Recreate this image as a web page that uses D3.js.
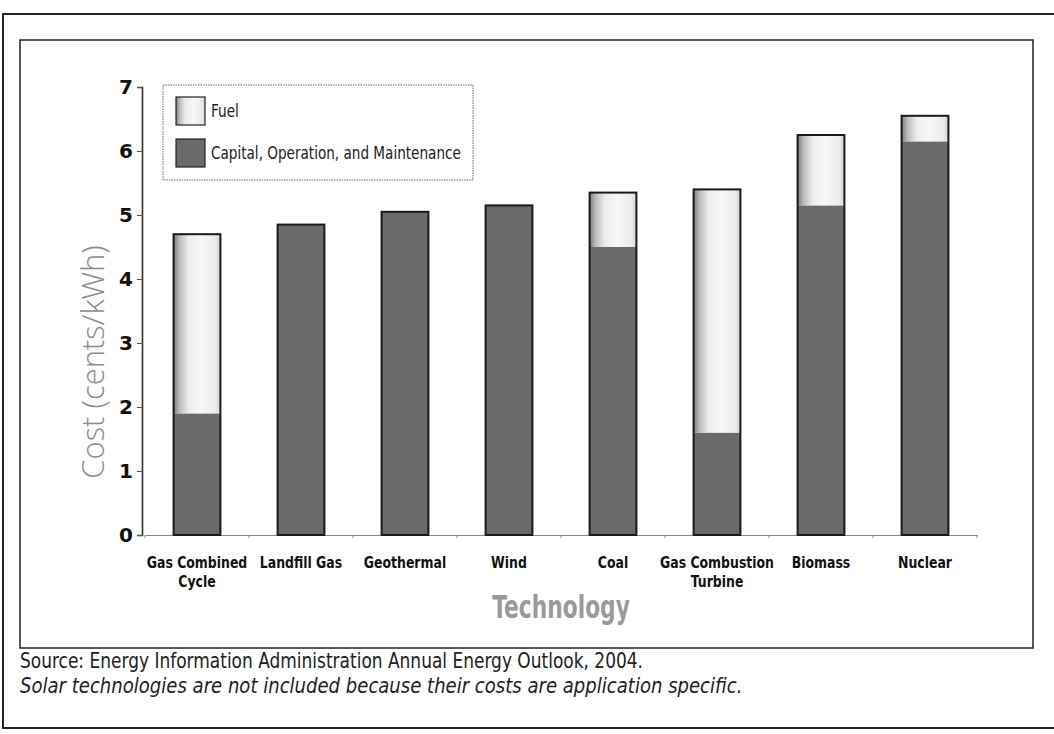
<!DOCTYPE html>
<html>
<head>
<meta charset="utf-8">
<script src="https://cdn.jsdelivr.net/npm/d3@7"></script>
<style>
  html, body { margin: 0; padding: 0; background: #fff; }
  svg { display: block; }
</style>
</head>
<body>
<svg id="chart" width="1054" height="734"></svg>
<script>
// Levelized electricity cost by technology (cents/kWh)
const categories = [
  "Gas Combined\nCycle",
  "Landfill Gas",
  "Geothermal",
  "Wind",
  "Coal",
  "Gas Combustion\nTurbine",
  "Biomass",
  "Nuclear"
];
const capitalOM = [1.9, 4.85, 5.05, 5.15, 4.5, 1.6, 5.15, 6.15];
const fuel      = [2.8, 0,    0,    0,    0.85, 3.8, 1.1,  0.4];
const yTicks = [0, 1, 2, 3, 4, 5, 6, 7];
const seriesNames = ["Fuel", "Capital, Operation, and Maintenance"];

const sans = "'DejaVu Sans', 'Liberation Sans', sans-serif";

const svg = d3.select("#chart");

// horizontally compressed text, used for the narrow lettering
function narrowText(parent, x, y, sx, anchor) {
  return parent.append("g")
    .attr("transform", `translate(${x},${y}) scale(${sx},1)`)
    .append("text").attr("x", 0).attr("y", 0)
    .attr("text-anchor", anchor || "start")
    .attr("font-family", sans);
}

// gradient used for the fuel segments
const defs = svg.append("defs");
const grad = defs.append("linearGradient").attr("id", "fuelGrad")
  .attr("x1", "0%").attr("x2", "100%").attr("y1", "0%").attr("y2", "0%");
[[0, "#7a7a7a"], [0.12, "#b9b9b9"], [0.32, "#ececec"], [0.6, "#f7f7f7"], [0.88, "#ececec"], [1, "#d4d4d4"]]
  .forEach(([o, c]) => grad.append("stop").attr("offset", o).attr("stop-color", c));

// page frames
svg.append("rect").attr("x", 3).attr("y", 14).attr("width", 1070).attr("height", 714)
  .attr("fill", "none").attr("stroke", "#222").attr("stroke-width", 2);
svg.append("rect").attr("x", 20).attr("y", 40).attr("width", 1013).attr("height", 608)
  .attr("fill", "none").attr("stroke", "#222").attr("stroke-width", 1.5);

const x = d3.scaleBand().domain(categories).range([145, 977]).padding(0);
const y = d3.scaleLinear().domain([0, 7]).range([535, 87]);
const barW = x.bandwidth() * 0.45;

// x axis
const xAxis = svg.append("g").attr("transform", `translate(0,${y(0)})`)
  .call(d3.axisBottom(x).tickSize(0).tickFormat(""));
xAxis.select(".domain").attr("stroke", "#8a8a8a").attr("stroke-width", 1);
xAxis.selectAll(".tick").remove();
const bounds = categories.map(c => x(c)).concat([x.range()[1]]);
xAxis.selectAll("line.bound").data(bounds).join("line").attr("class", "bound")
  .attr("x1", d => d).attr("x2", d => d).attr("y1", 0).attr("y2", 3)
  .attr("stroke", "#8a8a8a").attr("stroke-width", 1);

// category labels
const labels = svg.append("g");
categories.forEach(c => {
  const t = narrowText(labels, x(c) + x.bandwidth() / 2, 568, 0.78, "middle")
    .attr("font-weight", "bold").attr("font-size", 16).attr("fill", "#111");
  c.split("\n").forEach((line, i) => {
    t.append("tspan").attr("x", 0).attr("dy", i ? 19 : 0).text(line);
  });
});

// y axis
const yAxis = svg.append("g").attr("transform", "translate(142,0)")
  .call(d3.axisLeft(y).tickValues(yTicks).tickSize(5).tickPadding(4).tickFormat(d3.format("d")));
yAxis.select(".domain").attr("stroke", "#333").attr("stroke-width", 1.6);
yAxis.selectAll(".tick line").attr("stroke", "#555");
yAxis.selectAll(".tick text")
  .attr("font-family", sans).attr("font-weight", "bold")
  .attr("font-size", 20).attr("fill", "#111");

// stacked bars
const bars = svg.append("g");
categories.forEach((c, i) => {
  const bx = x(c) + (x.bandwidth() - barW) / 2;
  const capTop = y(capitalOM[i]);
  const total = capitalOM[i] + fuel[i];
  bars.append("rect").attr("x", bx).attr("y", capTop)
    .attr("width", barW).attr("height", y(0) - capTop).attr("fill", "#6a6a6a");
  if (fuel[i] > 0) {
    bars.append("rect").attr("x", bx).attr("y", y(total))
      .attr("width", barW).attr("height", capTop - y(total)).attr("fill", "url(#fuelGrad)");
  }
  bars.append("rect").attr("x", bx).attr("y", y(total))
    .attr("width", barW).attr("height", y(0) - y(total))
    .attr("fill", "none").attr("stroke", "#1a1a1a").attr("stroke-width", 2);
});

// legend
const lg = svg.append("g");
lg.append("rect").attr("x", 163).attr("y", 85).attr("width", 310).attr("height", 95)
  .attr("fill", "#fff").attr("stroke", "#666").attr("stroke-width", 1).attr("stroke-dasharray", "1.5,1");
const swatchFill = ["url(#fuelGrad)", "#6a6a6a"];
seriesNames.forEach((name, i) => {
  lg.append("rect").attr("x", 176).attr("y", 97 + i * 42).attr("width", 29).attr("height", 28)
    .attr("fill", swatchFill[i]).attr("stroke", "#222").attr("stroke-width", 1.2);
  narrowText(lg, 211, 117 + i * 42, 0.8)
    .attr("font-size", 17).attr("fill", "#222")
    .text(name);
});

// axis titles
svg.append("text")
  .attr("transform", "translate(104,362) rotate(-90)")
  .attr("text-anchor", "middle")
  .attr("font-family", "'Open Sans', 'DejaVu Sans', sans-serif").attr("font-weight", 300)
  .attr("font-size", 31).attr("fill", "#8d8d8d")
  .text("Cost (cents/kWh)");
narrowText(svg, 561, 618, 0.68, "middle")
  .attr("font-weight", "bold").attr("font-size", 32).attr("fill", "#9a9a9a")
  .text("Technology");

// source notes
narrowText(svg, 20, 668, 0.81)
  .attr("font-size", 21).attr("fill", "#222")
  .text("Source: Energy Information Administration Annual Energy Outlook, 2004.");
narrowText(svg, 20, 693, 0.86)
  .attr("font-size", 21).attr("font-style", "italic").attr("fill", "#222")
  .text("Solar technologies are not included because their costs are application specific.");
</script>
</body>
</html>
